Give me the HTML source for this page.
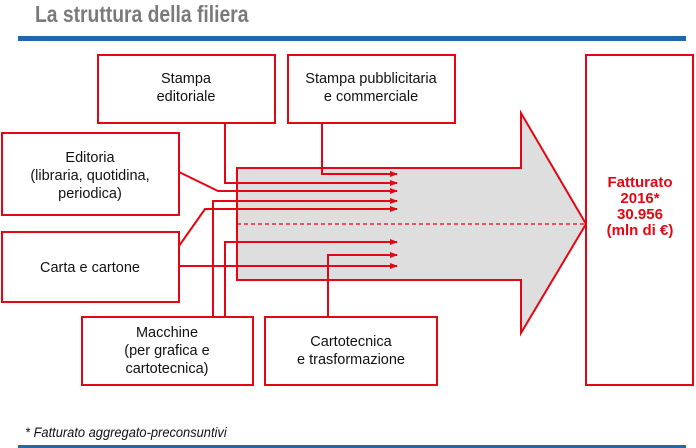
<!DOCTYPE html>
<html><head><meta charset="utf-8"><style>
body{margin:0;width:696px;height:448px;background:#fff;overflow:hidden;position:relative;font-family:"Liberation Sans",sans-serif}
</style></head><body>
<svg width="696" height="448" xmlns="http://www.w3.org/2000/svg" style="position:absolute;left:0;top:0">
<defs><marker id="a" markerWidth="8" markerHeight="6" refX="7" refY="3" orient="auto" markerUnits="userSpaceOnUse"><path d="M0,0 L8,3 L0,6 z" fill="#e30613"/></marker></defs>
<text x="35" y="22" font-family="Liberation Sans Narrow, Liberation Sans, sans-serif" font-weight="bold" font-size="23" fill="#7a7a7a" transform="translate(35,0) scale(0.84,1) translate(-35,0)">La struttura della filiera</text>
<rect x="18" y="36" width="668" height="5" fill="#2366b0"/>
<rect x="18" y="445" width="668" height="4" fill="#2366b0"/>
<text x="25" y="437" font-style="italic" font-size="14" fill="#111" transform="translate(25,0) scale(0.92,1) translate(-25,0)">* Fatturato aggregato-preconsuntivi</text>
<path d="M237,168 H521 V113 L586,224 L521,333 V280 H237 Z" fill="#dedede" stroke="#e30613" stroke-width="2"/>
<line x1="237" y1="224" x2="585" y2="224" stroke="#e30613" stroke-width="1.2" stroke-dasharray="4,3"/>
<g fill="#fff" stroke="#e30613" stroke-width="2">
<rect x="98" y="55" width="177" height="68"/>
<rect x="288" y="55" width="167" height="68"/>
<rect x="2" y="133" width="177" height="82"/>
<rect x="2" y="232" width="177" height="70"/>
<rect x="82" y="317" width="171" height="68"/>
<rect x="265" y="317" width="172" height="68"/>
<rect x="586" y="55" width="107" height="330"/>
</g>
<g fill="none" stroke="#e30613" stroke-width="2" marker-end="url(#a)">
<path d="M322,123 V174 H397"/>
<path d="M225,123 V183 H397"/>
<path d="M179,172 L218,191 H397"/>
<path d="M213,317 V201 H397"/>
<path d="M179,246 L205,209 H397"/>
<path d="M225,317 V242 H397"/>
<path d="M328,317 V255 H397"/>
<path d="M179,266 H397"/>
</g>
<g font-size="14.5" fill="#111" text-anchor="middle">
<text x="186" y="83">Stampa</text><text x="186" y="101">editoriale</text>
<text x="371" y="83">Stampa pubblicitaria</text><text x="371" y="101">e commerciale</text>
<text x="90" y="162">Editoria</text><text x="90" y="180">(libraria, quotidina,</text><text x="90" y="198">periodica)</text>
<text x="90" y="272">Carta e cartone</text>
<text x="167" y="337">Macchine</text><text x="167" y="355">(per grafica e</text><text x="167" y="373">cartotecnica)</text>
<text x="351" y="346">Cartotecnica</text><text x="351" y="364">e trasformazione</text>
</g>
<g font-size="15" font-weight="bold" fill="#e30613" text-anchor="middle">
<text x="640" y="187">Fatturato</text><text x="640" y="203">2016*</text><text x="640" y="219">30.956</text><text x="640" y="235">(mln di €)</text>
</g>
</svg>
</body></html>
